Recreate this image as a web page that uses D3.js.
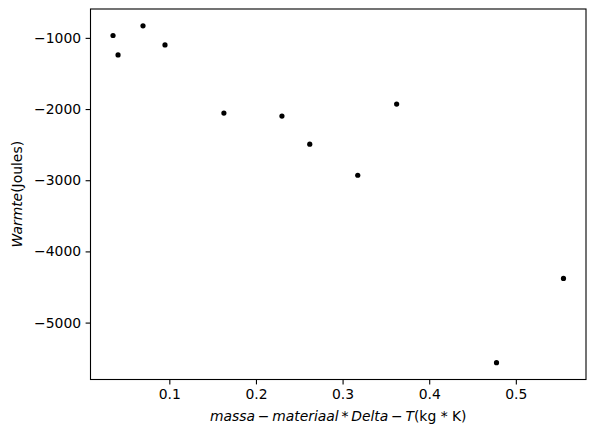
<!DOCTYPE html>
<html><head><meta charset="utf-8">
<script src="https://cdn.jsdelivr.net/npm/d3@7"></script>
<style>
body{margin:0;background:#fff;}
svg{display:block;font-family:"DejaVu Sans",sans-serif;}
</style></head>
<body><svg id="c" width="596" height="436"></svg>
<script>
const xValues = [0.035, 0.0408, 0.0696, 0.095, 0.163, 0.230, 0.2621, 0.3175, 0.3624, 0.4777, 0.555];
const yValues = [-967, -1240, -831, -1099, -2056, -2099, -2493, -2930, -1930, -5563, -4380];
const xTicks = [0.1, 0.2, 0.3, 0.4, 0.5];
const yTicks = [-1000, -2000, -3000, -4000, -5000];

const svg = d3.select("#c");
const L = 90.5, R = 586, T = 9, B = 379.5;
const xExt = d3.extent(xValues), yExt = d3.extent(yValues);
const xp = (xExt[1]-xExt[0])*0.05, yp = (yExt[1]-yExt[0])*0.05;
const x = d3.scaleLinear().domain([xExt[0]-xp, xExt[1]+xp]).range([L, R]);
const y = d3.scaleLinear().domain([yExt[0]-yp, yExt[1]+yp]).range([B, T]);
const fs = "13.9px";
const fmtY = d => d3.format("d")(d).replace("-", "\u2212");

const xa = svg.append("g").attr("transform", `translate(0,${B})`)
  .call(d3.axisBottom(x).tickValues(xTicks).tickSize(4.9).tickPadding(4.5).tickFormat(d3.format(".1f")));
const ya = svg.append("g").attr("transform", `translate(${L},0)`)
  .call(d3.axisLeft(y).tickValues(yTicks).tickSize(4.9).tickPadding(4.5).tickFormat(fmtY));
[xa, ya].forEach(a => {
  a.select(".domain").remove();
  a.selectAll("line").attr("stroke", "#000").attr("stroke-width", 1.1);
  a.selectAll("text").attr("font-size", fs).attr("fill", "#000").attr("font-family", "DejaVu Sans");
});

svg.append("rect").attr("x", L).attr("y", T).attr("width", R-L).attr("height", B-T)
  .attr("fill", "none").attr("stroke", "#000").attr("stroke-width", 1.1);

svg.append("g").selectAll("circle").data(xValues).join("circle")
  .attr("cx", d => x(d)).attr("cy", (d, i) => y(yValues[i])).attr("r", 2.6).attr("fill", "#000");

const xl = svg.append("text").attr("x", (L+R)/2).attr("y", 421).attr("text-anchor", "middle").attr("font-size", fs).attr("fill", "#000").attr("xml:space", "preserve");
const parts = [["massa",1],["\u2009\u2212\u2009",0],["materiaal",1],["\u2009*\u2009",0],["Delta",1],["\u2009\u2212\u2009",0],["T",1],["(kg * K)",0]];
parts.forEach(p => xl.append("tspan").attr("font-style", p[1] ? "italic" : "normal").text(p[0]));

const yl = svg.append("text").attr("transform", `translate(22,${(T+B)/2}) rotate(-90)`).attr("text-anchor", "middle").attr("font-size", fs).attr("fill", "#000");
yl.append("tspan").attr("font-style", "italic").text("Warmte");
yl.append("tspan").text("(Joules)");
</script></body></html>
